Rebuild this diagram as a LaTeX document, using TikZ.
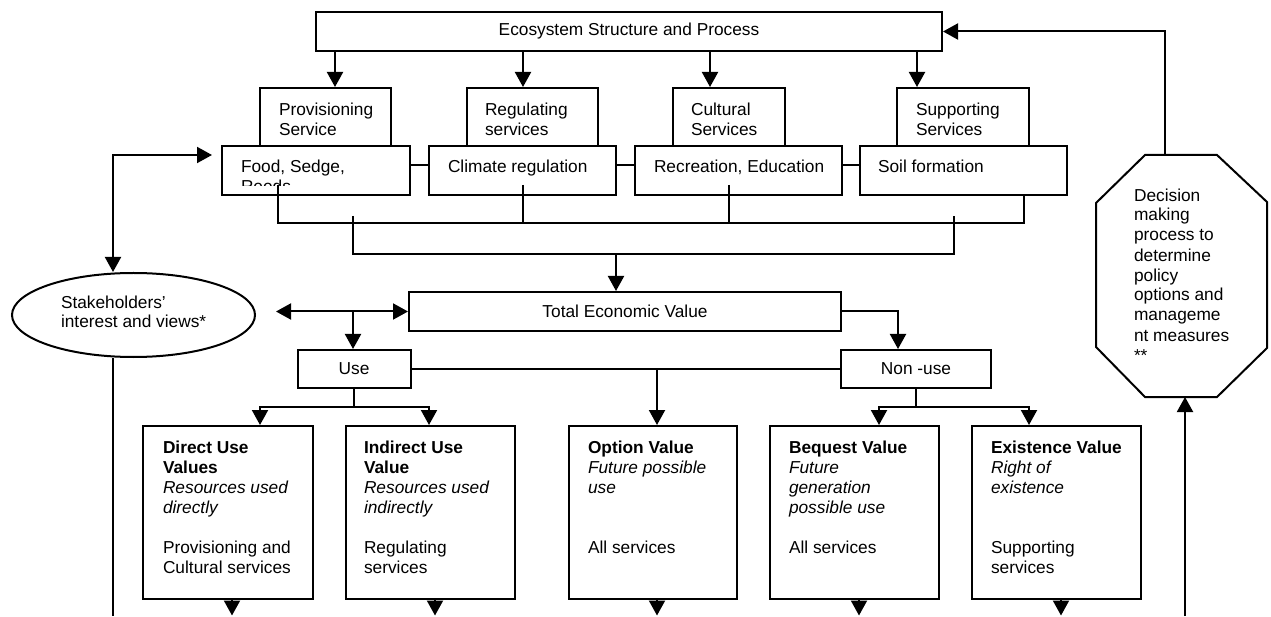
\documentclass[tikz,border=0pt]{standalone}
\usepackage{fontspec}
\setmainfont{Liberation Sans}
\usetikzlibrary{arrows.meta,shapes.geometric}
% invisible strut that fixes the top of the first text line
\newcommand{\lineTop}{\rule{0pt}{14pt}}
\begin{document}
\begin{tikzpicture}[x=1pt,y=-1pt,line width=2pt,
  sbox/.style={draw,fill=white,inner sep=0pt},
  ctxt/.style={font=\fontsize{17.3}{20}\selectfont},
  txt/.style={anchor=north west,inner sep=0pt,align=left,font=\fontsize{17.3}{20}\selectfont},
  arr/.style={-{Triangle[length=15pt,width=16pt]}},
  arr2/.style={{Triangle[length=15pt,width=16pt]}-{Triangle[length=15pt,width=16pt]}},
]
\fill[white] (0,0) rectangle (1271,616);

% ---------- ecosystem and services ----------
\node[sbox,ctxt,minimum width=626pt,minimum height=39pt] (eco) at (629,31.5) {Ecosystem Structure and Process};

\node[sbox,minimum width=131pt,minimum height=58pt] (hProv) at (325.5,117) {};
\node[sbox,minimum width=131pt,minimum height=58pt] (hReg)  at (532.5,117) {};
\node[sbox,minimum width=112pt,minimum height=58pt] (hCul)  at (729,117) {};
\node[sbox,minimum width=132pt,minimum height=58pt] (hSup)  at (963,117) {};

\node[txt] at (278,101) {\lineTop Provisioning\\Service};
\node[txt] at (484,101) {\lineTop Regulating\\services};
\node[txt] at (690,101) {\lineTop Cultural\\Services};
\node[txt] at (915,101) {\lineTop Supporting\\Services};

\node[sbox,minimum width=188pt,minimum height=49pt] (eFood) at (316,170.5) {};
\node[sbox,minimum width=187pt,minimum height=49pt] (eClim) at (522.5,170.5) {};
\node[sbox,minimum width=207pt,minimum height=49pt] (eRec)  at (738.5,170.5) {};
\node[sbox,minimum width=207pt,minimum height=49pt] (eSoil) at (963.5,170.5) {};

\begin{scope}
  \clip (222,146) rectangle (410,186);
  \node[txt] at (240,158) {\lineTop Food, Sedge,\\Reeds};
\end{scope}
\node[txt] at (447,158) {\lineTop Climate regulation};
\node[txt] at (653,158) {\lineTop Recreation, Education};
\node[txt] at (877,158) {\lineTop Soil formation};

\foreach \xx/\tgt in {335/hProv,523/hReg,710/hCul,917/hSup}
  \draw[arr] (eco.south -| \xx,0) -- (\tgt.north -| \xx,0);

\draw (eFood.east |- 0,165) -- (eClim.west |- 0,165);
\draw (eClim.east |- 0,165) -- (eRec.west |- 0,165);
\draw (eRec.east |- 0,165) -- (eSoil.west |- 0,165);

% collecting lines below the service boxes
\coordinate (cFood) at (278,185);
\coordinate (cClim) at (523,185);
\coordinate (cRec)  at (729,185);
\draw (cFood) -- (278,223) -- (1024,223) -- (eSoil.south -| 1024,0);
\draw (cClim) -- (cClim |- 0,223);
\draw (cRec) -- (cRec |- 0,223);
\coordinate (kL) at (353,254);
\coordinate (kR) at (954,254);
\draw (kL |- 0,216) -- (kL) -- (kR) -- (kR |- 0,216);
\coordinate (kM) at (616,254);

% ---------- total economic value ----------
\node[sbox,ctxt,minimum width=432pt,minimum height=39pt] (tev) at (625,311.5) {Total Economic Value};
\draw[arr] (kM) -- (tev.north -| kM);

\node[sbox,ellipse,minimum width=243pt,minimum height=84pt] (stake) at (133.5,315) {};
\node[txt] at (60,293) {\lineTop Stakeholders’\\interest and views*};

\node[sbox,ctxt,minimum width=113pt,minimum height=38pt] (use) at (354,369) {Use};
\node[sbox,ctxt,minimum width=150pt,minimum height=38pt] (nonuse) at (916,369) {Non -use};

\coordinate (dLeft) at (276,311.5);
\coordinate (dJoin) at (353,311.5);
\draw[arr2] (dLeft) -- (tev.west);
\draw[arr] (dJoin) -- (use.north -| dJoin);
\draw[arr] (tev.east) -| ([xshift=-18pt]nonuse.north);

\draw (use.east) -- (nonuse.west);
\coordinate (oJoin) at (657,369);

% ---------- value boxes ----------
\node[sbox,minimum width=170pt,minimum height=173pt] (direct)   at (228,512.5) {};
\node[sbox,minimum width=169pt,minimum height=173pt] (indirect) at (430.5,512.5) {};
\node[sbox,minimum width=168pt,minimum height=173pt] (option)   at (653,512.5) {};
\node[sbox,minimum width=169pt,minimum height=173pt] (bequest)  at (854.5,512.5) {};
\node[sbox,minimum width=169pt,minimum height=173pt] (exist)    at (1056.5,512.5) {};

\node[txt] at (162,438) {\lineTop\textbf{Direct Use}\\\textbf{Values}\\\textit{Resources used}\\\textit{directly}\\[20pt]Provisioning and\\Cultural services};
\node[txt] at (363,438) {\lineTop\textbf{Indirect Use}\\\textbf{Value}\\\textit{Resources used}\\\textit{indirectly}\\[20pt]Regulating\\services};
\node[txt] at (587,438) {\lineTop\textbf{Option Value}\\\textit{Future possible}\\\textit{use}\\[40pt]All services};
\node[txt] at (788,438) {\lineTop\textbf{Bequest Value}\\\textit{Future}\\\textit{generation}\\\textit{possible use}\\[20pt]All services};
\node[txt] at (990,438) {\lineTop\textbf{Existence Value}\\\textit{Right of}\\\textit{existence}\\[40pt]Supporting\\services};

\draw[arr] (oJoin) -- (option.north -| oJoin);

\coordinate (uJoin) at (use.south |- 0,407);
\draw (use.south) -- (uJoin);
\draw[arr] (uJoin) -| (direct.north -| 260,0);
\draw[arr] (uJoin) -| (indirect.north -| 429,0);

\coordinate (nJoin) at (nonuse.south |- 0,407);
\draw (nonuse.south) -- (nJoin);
\draw[arr] (nJoin) -| (bequest.north -| 879,0);
\draw[arr] (nJoin) -| (exist.north -| 1029,0);

\foreach \xx/\src in {232/direct,435/indirect,657/option,859/bequest,1061/exist}
  \draw[arr] (\src.south -| \xx,0) -- (\xx,615.5);

% ---------- stakeholders feedback ----------
\coordinate (skTip) at (212,155);
\draw[arr2] (stake.north -| 113,0) |- (skTip);
\draw (stake.south -| 113,0) -- (113,616);

% ---------- decision making octagon ----------
\draw[fill=white] (1145,155) -- (1217,155) -- (1267,202) -- (1267,348) -- (1217,397)
  -- (1145,397) -- (1096,347) -- (1096,203) -- cycle;
\coordinate (octTop) at (1165,155);
\coordinate (octBot) at (1185,397);
\node[txt] at (1133,186) {\lineTop Decision\\making\\process to\\determine\\policy\\options and\\manageme\\nt measures\\**};
\draw[arr] (octTop) |- (eco.east);
\draw[arr] (1185,616) -- (octBot);
\end{tikzpicture}
\end{document}
